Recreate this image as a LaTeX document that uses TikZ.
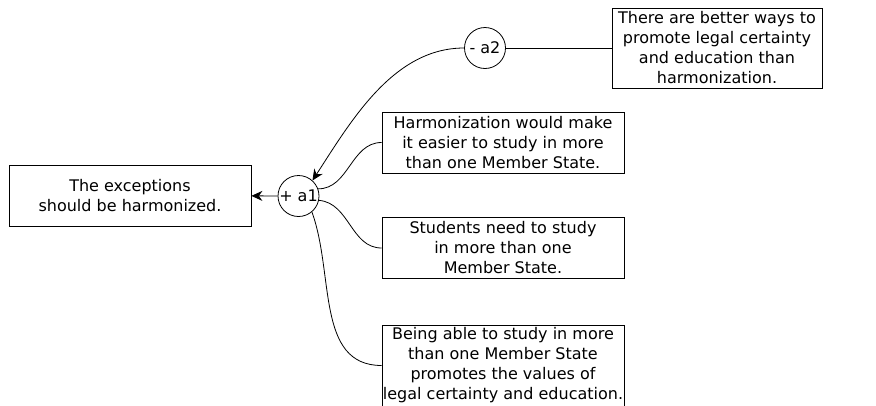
\documentclass[tikz,border=0pt]{standalone}
\usepackage{fontspec}
\setmainfont{DejaVu Sans}
\usetikzlibrary{arrows.meta}

\begin{document}
\begin{tikzpicture}[x=1pt,y=-1pt,line width=0.8pt,
	claim/.style={draw,align=center,inner sep=0pt,minimum width=242pt,minimum height=61pt},
	arg/.style={draw,circle,inner sep=0pt,minimum size=41pt},
	font=\fontsize{16}{20}\selectfont]
	
	\useasboundingbox (0,0) rectangle (876,405);
	
	% Draw nodes
	\node[claim] (concl) at (130,195.5) {The exceptions\\should be harmonized.};
	\node[arg] (a1) at (298.5,196) {+ a1};
	\node[arg] (a2) at (485,48) {- a2};
	\node[claim,minimum width=210pt,minimum height=80pt] (attack) at (717,48) {There are better ways to\\promote legal certainty\\and education than\\harmonization.};
	\node[claim] (p1) at (503,142.5) {Harmonization would make\\it easier to study in more\\than one Member State.};
	\node[claim] (p2) at (503,248) {Students need to study\\in more than one\\Member State.};
	\node[claim,minimum height=81pt] (p3) at (503,365.5) {Being able to study in more\\than one Member State\\promotes the values of\\legal certainty and education.};
	
	% Draw arcs, argument to its conclusion
	\draw[-{Stealth[length=11pt,width=10pt]}] (a1) -- (concl);
	\draw[-{Stealth[length=11pt,width=10pt]},out=180,in=57,looseness=0.9] (a2.west) to (a1.48);
	
	% Draw arcs, premises to their argument
	\draw[out=0,in=180] (a1.20) to (p1.west);
	\draw[out=-5,in=180] (a1.-12) to (p2.west);
	\draw[out=-70,in=180] (a1.-50) to (p3.west);
	\draw (a2) -- (attack);
	
\end{tikzpicture}
\end{document}
